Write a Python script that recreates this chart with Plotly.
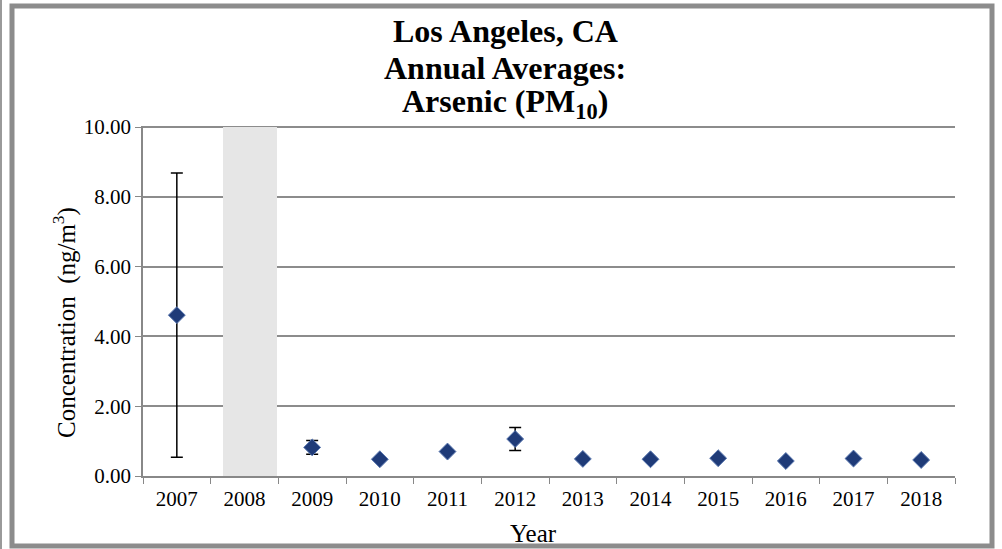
import plotly.graph_objects as go

years = ["2007", "2008", "2009", "2010", "2011", "2012", "2013", "2014", "2015", "2016", "2017", "2018"]
conc = [4.61, None, 0.82, 0.48, 0.70, 1.06, 0.49, 0.48, 0.51, 0.43, 0.50, 0.46]
err = [4.07, None, 0.20, 0.0, 0.05, 0.33, 0.0, 0.0, 0.0, 0.0, 0.0, 0.0]
shade_year = ["2008"]
shade_val = [10]
title_lines = ["Los Angeles, CA", "Annual Averages:", "Arsenic (PM<sub>10</sub>)"]

L, R, T, B = 143, 47, 126, 73
W, H = 1002, 549
pw, ph = W - L - R, H - T - B

def px(x):
    return (x - L) / pw

def py(y):
    return (H - B - y) / ph

SERIF = "Liberation Serif"

fig = go.Figure()
fig.add_trace(go.Bar(x=shade_year, y=shade_val, width=0.8, offset=-0.32,
                     marker=dict(color="#e6e6e6", line=dict(width=0)),
                     hoverinfo="skip", showlegend=False))
fig.add_trace(go.Scatter(
    x=years, y=conc, mode="markers",
    marker=dict(symbol="diamond", size=13, color="#1f3b78",
                line=dict(color="#5a78b0", width=1)),
    error_y=dict(type="data", array=err, visible=True, color="black",
                 thickness=1.5, width=6),
    showlegend=False))

annotations = []
for i, (line, yc) in enumerate(zip(title_lines, [31, 68, 104])):
    annotations.append(dict(text=line, xref="paper", yref="paper",
                            x=px(505), y=py(yc), xanchor="center", yanchor="middle",
                            showarrow=False,
                            font=dict(size=32, family=SERIF, color="black", weight=700)))
annotations.append(dict(text="Year", xref="paper", yref="paper", x=px(533), y=py(533),
                        xanchor="center", yanchor="middle", showarrow=False,
                        font=dict(size=25, family=SERIF, color="black")))
annotations.append(dict(text="Concentration  (ng/m<sup>3</sup>)", xref="paper", yref="paper",
                        x=px(64), y=py(323), xanchor="center", yanchor="middle",
                        textangle=-90, showarrow=False,
                        font=dict(size=25, family=SERIF, color="black")))

fig.update_layout(
    width=W, height=H,
    margin=dict(l=L, r=R, t=T, b=B),
    paper_bgcolor="white", plot_bgcolor="white",
    font=dict(family=SERIF, color="black"),
    bargap=0,
    xaxis=dict(type="category", categoryorder="array", categoryarray=years,
               range=[-0.5, len(years) - 0.5],
               tickson="boundaries", ticks="outside", ticklen=6, ticklabelstandoff=3,
               tickcolor="#888888", showline=True, linecolor="#888888", linewidth=1.5,
               showgrid=False, tickfont=dict(size=21, family=SERIF)),
    yaxis=dict(range=[0, 10.03], tickvals=[0, 2, 4, 6, 8, 10], tickformat=".2f",
               ticks="outside", ticklen=6,
               tickcolor="#888888", showline=True, linecolor="#888888", linewidth=1.5,
               showgrid=True, gridcolor="#8c8c8c", gridwidth=1.5, zeroline=False,
               tickfont=dict(size=21, family=SERIF)),
    annotations=annotations,
    shapes=[
        dict(type="rect", xref="paper", yref="paper",
             x0=px(12), x1=px(992), y0=py(546), y1=py(6),
             line=dict(color="#8c8c8c", width=5), layer="above"),
        dict(type="line", xref="paper", yref="paper",
             x0=px(1), x1=px(1), y0=py(549), y1=py(0),
             line=dict(color="#9a9a9a", width=2), layer="above"),
    ],
)

fig.write_html("out.html", config={"displayModeBar": False},
               post_script="document.body.style.margin='0';")
